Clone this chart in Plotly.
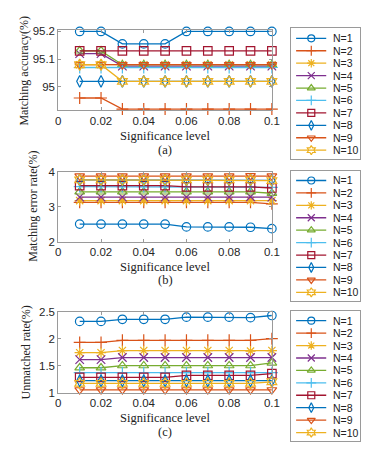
import plotly.graph_objects as go

W, H = 375, 456

sig = [0.01, 0.02, 0.03, 0.04, 0.05, 0.06, 0.07, 0.08, 0.09, 0.10]
names = ["N=1", "N=2", "N=3", "N=4", "N=5", "N=6", "N=7", "N=8", "N=9", "N=10"]

acc_n1 = [95.20, 95.20, 95.155, 95.155, 95.155, 95.20, 95.20, 95.20, 95.20, 95.20]
acc_n2 = [94.96, 94.96, 94.92, 94.92, 94.92, 94.92, 94.92, 94.92, 94.92, 94.92]
acc_n3 = [95.08, 95.08, 95.08, 95.08, 95.08, 95.08, 95.08, 95.08, 95.08, 95.08]
acc_n4 = [95.12, 95.12, 95.075, 95.075, 95.075, 95.075, 95.075, 95.075, 95.075, 95.075]
acc_n5 = [95.13, 95.13, 95.08, 95.08, 95.08, 95.08, 95.08, 95.08, 95.08, 95.08]
acc_n6 = [95.07, 95.07, 95.07, 95.07, 95.07, 95.07, 95.07, 95.07, 95.07, 95.07]
acc_n7 = [95.13, 95.13, 95.13, 95.13, 95.13, 95.13, 95.13, 95.13, 95.13, 95.13]
acc_n8 = [95.02, 95.02, 95.02, 95.02, 95.02, 95.02, 95.02, 95.02, 95.02, 95.02]
acc_n9 = [95.08, 95.08, 95.08, 95.08, 95.08, 95.08, 95.08, 95.08, 95.08, 95.08]
acc_n10 = [95.08, 95.08, 95.02, 95.02, 95.02, 95.02, 95.02, 95.02, 95.02, 95.02]

err_n1 = [2.50, 2.50, 2.50, 2.50, 2.50, 2.42, 2.42, 2.42, 2.41, 2.37]
err_n2 = [3.12, 3.12, 3.12, 3.12, 3.12, 3.12, 3.12, 3.12, 3.12, 3.08]
err_n3 = [3.17, 3.17, 3.17, 3.17, 3.17, 3.17, 3.17, 3.17, 3.17, 3.17]
err_n4 = [3.27, 3.27, 3.27, 3.27, 3.27, 3.27, 3.27, 3.27, 3.28, 3.27]
err_n5 = [3.42, 3.42, 3.42, 3.42, 3.42, 3.42, 3.42, 3.42, 3.42, 3.38]
err_n6 = [3.57, 3.57, 3.57, 3.57, 3.57, 3.57, 3.57, 3.57, 3.57, 3.55]
err_n7 = [3.60, 3.60, 3.60, 3.60, 3.60, 3.56, 3.56, 3.56, 3.56, 3.53]
err_n8 = [3.76, 3.76, 3.76, 3.76, 3.76, 3.76, 3.76, 3.76, 3.76, 3.75]
err_n9 = [3.87, 3.87, 3.87, 3.87, 3.87, 3.87, 3.87, 3.87, 3.88, 3.87]
err_n10 = [3.76, 3.76, 3.76, 3.76, 3.76, 3.76, 3.76, 3.76, 3.76, 3.74]

unm_n1 = [2.32, 2.32, 2.36, 2.36, 2.36, 2.40, 2.40, 2.40, 2.39, 2.43]
unm_n2 = [1.93, 1.93, 1.97, 1.97, 1.97, 1.97, 1.97, 1.97, 1.97, 2.00]
unm_n3 = [1.74, 1.74, 1.78, 1.78, 1.78, 1.78, 1.78, 1.78, 1.77, 1.78]
unm_n4 = [1.61, 1.61, 1.65, 1.65, 1.65, 1.65, 1.65, 1.65, 1.65, 1.65]
unm_n5 = [1.46, 1.46, 1.50, 1.50, 1.50, 1.50, 1.50, 1.50, 1.50, 1.55]
unm_n6 = [1.37, 1.37, 1.37, 1.37, 1.37, 1.37, 1.37, 1.37, 1.37, 1.37]
unm_n7 = [1.28, 1.28, 1.28, 1.28, 1.28, 1.32, 1.32, 1.32, 1.32, 1.35]
unm_n8 = [1.22, 1.22, 1.22, 1.22, 1.22, 1.22, 1.22, 1.22, 1.22, 1.22]
unm_n9 = [1.05, 1.05, 1.05, 1.05, 1.05, 1.05, 1.05, 1.05, 1.05, 1.05]
unm_n10 = [1.17, 1.17, 1.17, 1.17, 1.17, 1.17, 1.17, 1.17, 1.17, 1.20]

acc = [acc_n1, acc_n2, acc_n3, acc_n4, acc_n5, acc_n6, acc_n7, acc_n8, acc_n9, acc_n10]
err = [err_n1, err_n2, err_n3, err_n4, err_n5, err_n6, err_n7, err_n8, err_n9, err_n10]
unm = [unm_n1, unm_n2, unm_n3, unm_n4, unm_n5, unm_n6, unm_n7, unm_n8, unm_n9, unm_n10]

y_titles = ["Matching accuracy(%)", "Matching error rate(%)", "Unmatched rate(%)"]
x_title = "Significance level"
captions = ["(a)", "(b)", "(c)"]
y_ticks = [[95, 95.1, 95.2], [2, 3, 4], [1, 1.5, 2, 2.5]]
y_ranges = [[94.916, 95.204], [2, 4], [1, 2.5]]
x_ticks = [0, 0.02, 0.04, 0.06, 0.08, 0.1]

colors = ["#0072BD", "#D95319", "#EDB120", "#7E2F8E", "#77AC30",
          "#4DBEEE", "#A2142F", "#0072BD", "#D95319", "#EDB120"]
symbols = ["circle-open", "cross-thin-open", "asterisk-open", "x-thin-open",
           "triangle-up-open", "cross-thin-open", "square-open",
           "diamond-tall-open", "triangle-down-open", "hexagram-open"]

SANS = "Liberation Sans, Arial, sans-serif"
SERIF = "Liberation Serif, Times New Roman, serif"
FRAME = "#9a9a9a"

# pixel layout (top, bottom) of each plot box; legend boxes
plot_px = [(25, 107), (170, 242), (314, 397)]
px_left, px_right = 57, 277
leg_px = [(23, 157), (169, 303), (313, 447)]
leg_left, leg_right = 297, 368
xt_y = [134, 268, 423]
cap_y = [148, 281, 438]
yt_x = [22, 30, 24]


def py(p):
    return 1 - p / H


def pxx(p):
    return p / W


fig = go.Figure()
layout = dict(width=W, height=H, margin=dict(l=0, r=0, t=0, b=0),
              paper_bgcolor="white", plot_bgcolor="white", showlegend=False)
annotations = []

datasets = [acc, err, unm]
for i in range(3):
    ax = "" if i == 0 else str(i + 1)
    top, bot = plot_px[i]
    layout["xaxis" + ax] = dict(
        domain=[pxx(px_left), pxx(px_right)], anchor="y" + ax, range=[0, 0.1],
        tickvals=x_ticks, ticks="inside", ticklen=3, tickcolor=FRAME,
        showline=True, linecolor=FRAME, linewidth=1, mirror="ticks",
        showgrid=False, zeroline=False,
        tickfont=dict(family=SANS, size=11.5, color="#262626"))
    layout["yaxis" + ax] = dict(
        domain=[py(bot), py(top)], anchor="x" + ax, range=y_ranges[i],
        tickvals=y_ticks[i], ticks="inside", ticklen=3, tickcolor=FRAME,
        showline=True, linecolor=FRAME, linewidth=1, mirror="ticks",
        showgrid=False, zeroline=False,
        tickfont=dict(family=SANS, size=11.5, color="#262626"))
    for k in range(10):
        fig.add_trace(go.Scatter(
            x=sig, y=datasets[i][k], mode="lines+markers", name=names[k],
            xaxis="x" + ax, yaxis="y" + ax, cliponaxis=False,
            line=dict(color=colors[k], width=1.3),
            marker=dict(symbol=symbols[k], size=8.5, color=colors[k],
                        line=dict(width=1.2, color=colors[k]))))
    # titles
    cx = (px_left + px_right) / 2
    annotations.append(dict(text=x_title, xref="paper", yref="paper",
                            x=pxx(cx), y=py(xt_y[i]), xanchor="center", yanchor="middle",
                            showarrow=False, font=dict(family=SERIF, size=12.5, color="#222")))
    annotations.append(dict(text=captions[i], xref="paper", yref="paper",
                            x=pxx(cx), y=py(cap_y[i]), xanchor="center", yanchor="middle",
                            showarrow=False, font=dict(family=SERIF, size=12.5, color="#222")))
    annotations.append(dict(text=y_titles[i], xref="paper", yref="paper",
                            x=pxx(yt_x[i]), y=py((top + bot) / 2), xanchor="center",
                            yanchor="middle", textangle=-90,
                            showarrow=False, font=dict(family=SERIF, size=12, color="#222")))

    # custom legend box on its own axes
    la = str(i + 4)
    ltop, lbot = leg_px[i]
    layout["xaxis" + la] = dict(
        domain=[pxx(leg_left), pxx(leg_right)], anchor="y" + la, range=[0, 1],
        showline=True, linecolor=FRAME, linewidth=1, mirror=True,
        showticklabels=False, ticks="", showgrid=False, zeroline=False, fixedrange=True)
    layout["yaxis" + la] = dict(
        domain=[py(lbot), py(ltop)], anchor="x" + la, range=[10.7, 0.2],
        showline=True, linecolor=FRAME, linewidth=1, mirror=True,
        showticklabels=False, ticks="", showgrid=False, zeroline=False, fixedrange=True)
    for k in range(10):
        fig.add_trace(go.Scatter(
            x=[0.07, 0.507], y=[k + 1, k + 1], mode="lines",
            xaxis="x" + la, yaxis="y" + la, hoverinfo="skip",
            line=dict(color=colors[k], width=1.3)))
        fig.add_trace(go.Scatter(
            x=[0.29], y=[k + 1], mode="markers",
            xaxis="x" + la, yaxis="y" + la, hoverinfo="skip",
            marker=dict(symbol=symbols[k], size=7, color=colors[k],
                        line=dict(width=1.2, color=colors[k]))))
        annotations.append(dict(text=names[k], xref="x" + la, yref="y" + la,
                                x=0.57, y=k + 1, xanchor="left", yanchor="middle",
                                showarrow=False,
                                font=dict(family=SANS, size=10.5, color="#222")))

layout["annotations"] = annotations
fig.update_layout(**layout)
fig.write_html("out.html", config={"displayModeBar": False},
               post_script="document.body.style.margin='0px';document.body.style.overflow='hidden';")
